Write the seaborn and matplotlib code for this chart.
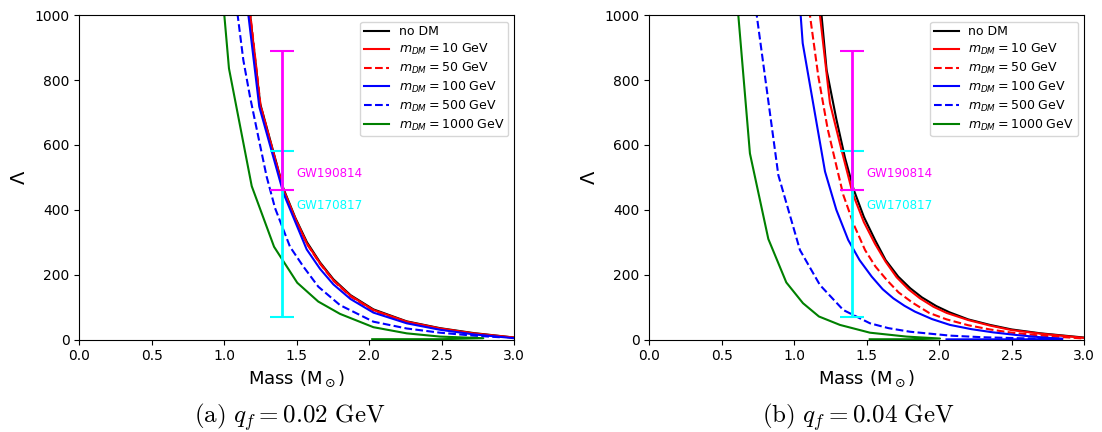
import matplotlib
matplotlib.use("Agg")
import matplotlib.pyplot as plt
import seaborn as sns

# ---- panel (a): q_f = 0.02 GeV ----
m_nodm_a = [1.165, 1.178, 1.247, 1.408, 1.49, 1.57, 1.66, 1.752, 1.87, 2.028, 2.258, 2.488, 2.717, 3.0]
l_nodm_a = [1065, 1000, 728, 465, 375, 300, 238, 186, 137, 93, 56, 35, 20, 6]
m_10_a = [1.165, 1.177, 1.246, 1.407, 1.49, 1.568, 1.66, 1.752, 1.87, 2.028, 2.258, 2.488, 2.717, 3.0]
l_10_a = [1060, 1000, 725, 462, 372, 297, 235, 183, 135, 91, 55, 34, 19, 6]
m_50_a = [1.168, 1.18, 1.25, 1.41, 1.493, 1.572, 1.663, 1.755, 1.873, 2.03, 2.26, 2.49, 2.72, 3.0]
l_50_a = [1060, 1000, 722, 458, 368, 293, 232, 180, 132, 89, 53, 33, 18, 5]
m_100_a = [1.155, 1.166, 1.241, 1.407, 1.49, 1.568, 1.66, 1.752, 1.87, 2.028, 2.258, 2.488, 2.717, 3.0]
l_100_a = [1060, 1000, 718, 452, 362, 278, 218, 170, 125, 83, 50, 30, 16, 4]
m_500_a = [1.08, 1.092, 1.131, 1.177, 1.234, 1.292, 1.35, 1.453, 1.545, 1.648, 1.798, 2.028, 2.258, 2.488, 2.717, 2.9]
l_500_a = [1040, 1000, 862, 749, 626, 502, 405, 286, 225, 163, 106, 55, 34, 21, 12, 7]
m_1000_a = [0.98, 1.0, 1.032, 1.189, 1.343, 1.503, 1.648, 1.798, 2.028, 2.258, 2.488, 2.786, 2.5, 2.02]
l_1000_a = [1100, 1000, 836, 473, 286, 175, 117, 79, 38, 19, 9, 4, 1, 1]

# ---- panel (b): q_f = 0.04 GeV ----
m_nodm_b = [1.17, 1.188, 1.223, 1.29, 1.35, 1.41, 1.48, 1.557, 1.63, 1.717, 1.80, 1.88, 1.98, 2.07, 2.20, 2.35, 2.50, 2.70, 3.0]
l_nodm_b = [1080, 1000, 831, 680, 560, 462, 378, 307, 245, 194, 158, 130, 103, 84, 62, 45, 31, 19, 6]
m_10_b = [1.16, 1.177, 1.246, 1.32, 1.403, 1.48, 1.557, 1.63, 1.706, 1.79, 1.867, 1.96, 2.051, 2.20, 2.35, 2.50, 2.70, 3.0]
l_10_b = [1060, 1000, 729, 595, 450, 362, 295, 240, 192, 154, 127, 101, 82, 60, 43, 29, 18, 5]
m_50_b = [1.09, 1.108, 1.166, 1.23, 1.297, 1.338, 1.41, 1.488, 1.56, 1.637, 1.72, 1.821, 1.93, 2.051, 2.20, 2.35, 2.50, 2.70, 3.0]
l_50_b = [1090, 1000, 811, 650, 523, 446, 355, 276, 225, 184, 145, 112, 82, 62, 44, 31, 21, 12, 3]
m_100_b = [1.035, 1.044, 1.058, 1.212, 1.29, 1.372, 1.45, 1.534, 1.61, 1.683, 1.76, 1.832, 1.95, 2.074, 2.22, 2.372, 2.55, 2.70, 2.85, 2.6, 2.3, 2.05]
l_100_b = [1050, 1000, 914, 518, 400, 307, 245, 194, 155, 127, 104, 86, 63, 45, 32, 22, 13, 7, 2, 0.6, 0.5, 0.5]
m_500_b = [0.70, 0.741, 0.89, 1.039, 1.177, 1.338, 1.522, 1.65, 1.798, 2.074, 2.30, 2.55, 2.85]
l_500_b = [1135, 1000, 507, 276, 168, 91, 50, 35, 24, 12, 7, 4, 1.5]
m_1000_b = [0.60, 0.614, 0.694, 0.821, 0.945, 1.06, 1.17, 1.315, 1.522, 1.775, 2.005, 1.80, 1.52]
l_1000_b = [1075, 1000, 574, 310, 176, 112, 71, 45, 21, 9, 3, 0.8, 0.8]

labels = ["no DM", r"$m_{DM} = 10$ GeV", r"$m_{DM} = 50$ GeV",
          r"$m_{DM} = 100$ GeV", r"$m_{DM} = 500$ GeV", r"$m_{DM} = 1000$ GeV"]
colors = ["black", "red", "red", "blue", "blue", "green"]
styles = ["-", "-", "--", "-", "--", "-"]

# GW constraints at 1.4 Msun
gw170817_lo, gw170817_hi = 70, 580
gw190814_lo, gw190814_hi = 460, 890

panels = [
    ([m_nodm_a, m_10_a, m_50_a, m_100_a, m_500_a, m_1000_a],
     [l_nodm_a, l_10_a, l_50_a, l_100_a, l_500_a, l_1000_a],
     r"$\mathrm{(a)}\ q_f = 0.02\ \mathrm{GeV}$"),
    ([m_nodm_b, m_10_b, m_50_b, m_100_b, m_500_b, m_1000_b],
     [l_nodm_b, l_10_b, l_50_b, l_100_b, l_500_b, l_1000_b],
     r"$\mathrm{(b)}\ q_f = 0.04\ \mathrm{GeV}$"),
]

fig = plt.figure(figsize=(11.02, 4.32), dpi=100)
ax_pos = [[0.072, 0.2141, 0.3947, 0.7505], [0.5892, 0.2141, 0.3947, 0.7505]]
cap_x = [0.263, 0.779]

for i, (ms, ls, cap) in enumerate(panels):
    ax = fig.add_axes(ax_pos[i])
    for m, l, lab, c, s in zip(ms, ls, labels, colors, styles):
        sns.lineplot(x=m, y=l, sort=False, estimator=None, color=c,
                     linestyle=s, linewidth=1.5, label=lab, ax=ax)
    ax.errorbar(1.4, (gw170817_lo + gw170817_hi) / 2,
                yerr=(gw170817_hi - gw170817_lo) / 2, color="cyan",
                capsize=8.5, elinewidth=2, capthick=1.5)
    ax.errorbar(1.4, (gw190814_lo + gw190814_hi) / 2,
                yerr=(gw190814_hi - gw190814_lo) / 2, color="magenta",
                capsize=8.5, elinewidth=2, capthick=1.5)
    ax.text(1.5, 513, "GW190814", color="magenta", fontsize=8.6, va="center")
    ax.text(1.5, 413, "GW170817", color="cyan", fontsize=8.6, va="center")
    ax.set_xlim(0, 3)
    ax.set_ylim(0, 1000)
    ax.set_xticks([0.0, 0.5, 1.0, 1.5, 2.0, 2.5, 3.0])
    ax.set_yticks([0, 200, 400, 600, 800, 1000])
    ax.tick_params(labelsize=10)
    ax.set_xlabel(r"Mass (M$_\odot$)", fontsize=13)
    ax.set_ylabel(r"$\Lambda$", fontsize=14, labelpad=4)
    ax.legend(loc="upper right", fontsize=9, borderpad=0.3,
              labelspacing=0.3, handletextpad=0.75)
    fig.text(cap_x[i], 0.035, cap, fontsize=18, ha="center", va="center",
             math_fontfamily="cm")

plt.savefig("out.png", dpi=100)
